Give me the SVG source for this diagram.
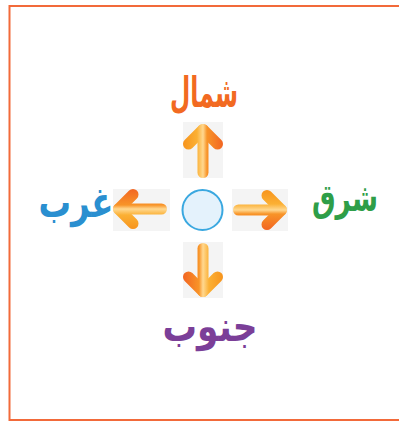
<svg xmlns="http://www.w3.org/2000/svg" width="399" height="421" viewBox="0 0 399 421">
<style>
.lbl{font-family:"DejaVu Sans",sans-serif;font-weight:bold;font-size:42px;text-anchor:middle}
.sm{font-size:38px}
.bg{fill:#f4f4f4}
</style>
<defs>
<linearGradient id="ag" gradientUnits="userSpaceOnUse" x1="-20" y1="0" x2="20" y2="0">
<stop offset="0" stop-color="#f7941d"/>
<stop offset="0.35" stop-color="#fbb034"/>
<stop offset="0.5" stop-color="#ffd890"/>
<stop offset="0.6" stop-color="#f89428"/>
<stop offset="1" stop-color="#f26522"/>
</linearGradient>
<g id="arrow" fill="none" stroke="url(#ag)" stroke-width="11" stroke-linecap="round" stroke-linejoin="round">
<path d="M-14.5,20 L0,5.5 L14.5,20"/>
<path d="M0,5.5 L0,48.5"/>
</g>
</defs>
<rect x="9.5" y="6" width="400" height="414" fill="#fff" stroke="#f26a3a" stroke-width="2"/>
<g id="connectors">
<rect class="bg" x="183" y="122" width="40" height="56"/>
<rect class="bg" x="183" y="242" width="40" height="56"/>
<rect class="bg" x="113" y="189" width="57" height="42"/>
<rect class="bg" x="232" y="189" width="56" height="42"/>
<use href="#arrow" transform="translate(203,124)"/>
<use href="#arrow" transform="translate(203,297) rotate(180)"/>
<use href="#arrow" transform="translate(113,209) rotate(-90)"/>
<use href="#arrow" transform="translate(287,210) rotate(90)"/>
</g>
<g id="center"><circle cx="202.5" cy="210" r="20" fill="#e4f2fc" stroke="#3aa8e0" stroke-width="2"/></g>
<g id="north"><text class="lbl" x="204" y="107" fill="#f26a21" textLength="68" lengthAdjust="spacingAndGlyphs">شمال</text></g>
<g id="west"><text class="lbl" x="76" y="217" fill="#2a8fd0" textLength="75" lengthAdjust="spacingAndGlyphs">غرب</text></g>
<g id="east"><text class="lbl sm" x="345" y="211" fill="#2e9e48" textLength="66" lengthAdjust="spacingAndGlyphs">شرق</text></g>
<g id="south"><text class="lbl" x="210" y="341" fill="#7b3f98" textLength="95" lengthAdjust="spacingAndGlyphs">جنوب</text></g>
</svg>
